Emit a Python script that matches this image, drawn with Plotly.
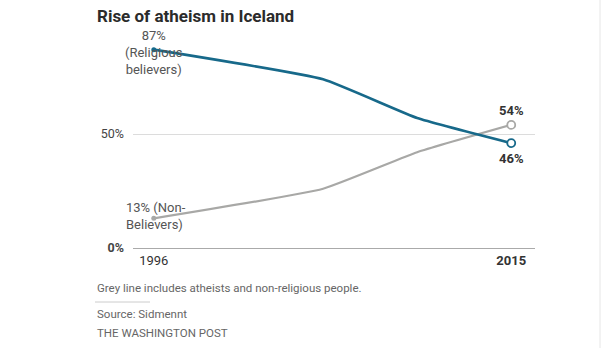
import plotly.graph_objects as go

years = [1996, 2005, 2010, 2015]
religious = [87, 74, 57, 46]
non_believers = [13, 26, 42, 54]
x_ticks = [1996, 2015]
x_tick_text = ["1996", "<b>2015</b>"]
y_ticks = [0, 50]
y_tick_text = ["<b>0%</b>", "50%"]

BLUE = "#17698a"
GREY = "#a8a8a6"
FONT = "Roboto, Liberation Sans, sans-serif"

PLOT_L, PLOT_R, PLOT_T, PLOT_B = 133, 535, 30, 248
PW, PH = PLOT_R - PLOT_L, PLOT_B - PLOT_T


def px(xp):
    return (xp - PLOT_L) / PW


def py(yp):
    return (PLOT_B - yp) / PH


fig = go.Figure()
fig.add_trace(go.Scatter(
    x=years, y=non_believers, mode="lines",
    line=dict(color=GREY, width=2.2, shape="spline", smoothing=0.4),
    hoverinfo="skip", showlegend=False))
fig.add_trace(go.Scatter(
    x=years, y=religious, mode="lines",
    line=dict(color=BLUE, width=2.6, shape="spline", smoothing=0.4),
    hoverinfo="skip", showlegend=False))
fig.add_trace(go.Scatter(
    x=[years[0], years[0]], y=[religious[0], non_believers[0]], mode="markers",
    marker=dict(size=5, color=[BLUE, GREY]), hoverinfo="skip", showlegend=False))
fig.add_trace(go.Scatter(
    x=[years[-1], years[-1]], y=[religious[-1], non_believers[-1]], mode="markers",
    marker=dict(size=8, color="white", line=dict(color=[BLUE, GREY], width=1.8)),
    hoverinfo="skip", showlegend=False))

lab_font = dict(family=FONT, size=13, color="#555")
fig.add_annotation(x=years[0], y=religious[0], text=f"{religious[0]}%<br>(Religious<br>believers)",
                   showarrow=False, xanchor="center", yanchor="middle", yshift=-3,
                   font=lab_font, align="center")
fig.add_annotation(x=years[0], y=non_believers[0], text=f"{non_believers[0]}% (Non-<br>Believers)",
                   showarrow=False, xanchor="left", yanchor="middle", xshift=-30, yshift=2,
                   font=lab_font, align="left")
bold_font = dict(family=FONT, size=13, color="#333")
fig.add_annotation(x=years[-1], y=non_believers[-1], text=f"<b>{non_believers[-1]}%</b>",
                   showarrow=False, yanchor="bottom", yshift=5, font=bold_font)
fig.add_annotation(x=years[-1], y=religious[-1], text=f"<b>{religious[-1]}%</b>",
                   showarrow=False, yanchor="top", yshift=-6, font=bold_font)

fig.add_annotation(xref="paper", yref="paper", x=px(95), y=py(16),
                   text="<b>Rise of atheism in Iceland</b>", showarrow=False,
                   xanchor="left", yanchor="middle",
                   font=dict(family=FONT, size=17, color="#2b2b2b"))
foot = [("Grey line includes atheists and non-religious people.", 288),
        ("Source: Sidmennt", 314),
        ("THE WASHINGTON POST", 333)]
for t, yp in foot:
    fig.add_annotation(xref="paper", yref="paper", x=px(95), y=py(yp),
                       text=t, showarrow=False, xanchor="left", yanchor="middle",
                       font=dict(family=FONT, size=11.5, color="#666"))
fig.add_shape(type="line", xref="paper", yref="paper",
              x0=px(95), x1=px(150), y0=py(302), y1=py(302),
              line=dict(color="#ccc", width=1))
fig.add_shape(type="line", xref="paper", yref="paper",
              x0=px(600), x1=px(600), y0=py(348), y1=py(0),
              line=dict(color="#e6e6e6", width=1))

fig.update_layout(
    width=610, height=348,
    margin=dict(l=PLOT_L, r=610 - PLOT_R, t=PLOT_T, b=348 - PLOT_B),
    paper_bgcolor="white", plot_bgcolor="white",
    font=dict(family=FONT),
    xaxis=dict(range=[1994.895, 2016.263], tickvals=x_ticks, ticktext=x_tick_text,
               showgrid=False, zeroline=False, showline=False, ticks="",
               ticklabelstandoff=3,
               tickfont=dict(size=13, color="#333"), fixedrange=True),
    yaxis=dict(range=[0, PH / 2.28], tickvals=y_ticks, ticktext=y_tick_text,
               showgrid=True, gridcolor="#dcdcdc", gridwidth=1,
               zeroline=True, zerolinecolor="#aaa", zerolinewidth=1.2,
               showline=False, ticks="", ticklabelstandoff=8,
               tickfont=dict(size=12.5, color="#444"), fixedrange=True),
)
fig.write_html("out.html")
